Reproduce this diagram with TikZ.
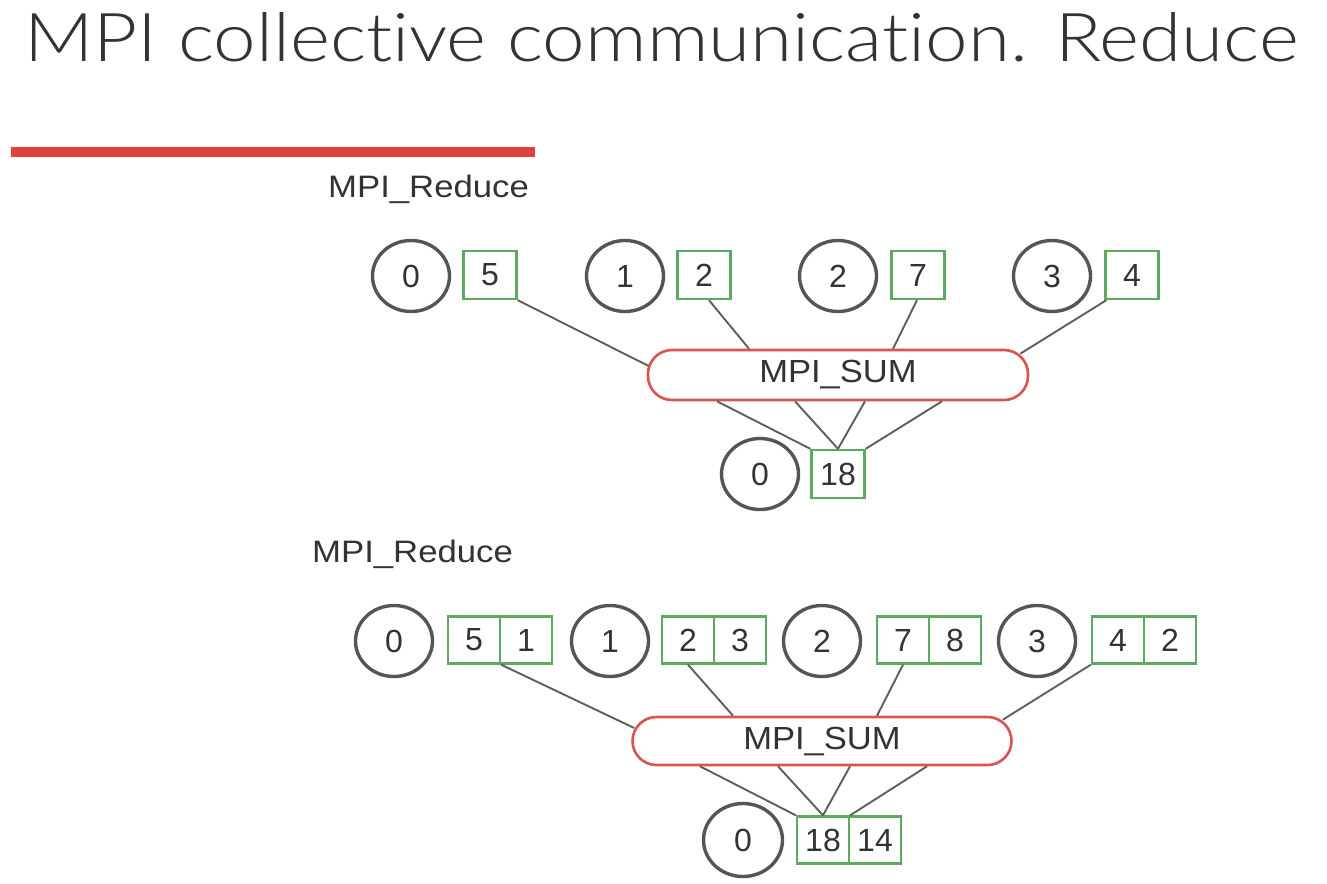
\documentclass[tikz,border=0pt]{standalone}
\usepackage{fontspec}
\setmainfont{Liberation Sans}
\newfontfamily\titlefont[Ligatures=NoCommon]{Lato Light}
\usetikzlibrary{shapes.geometric,calc}
\definecolor{procgray}{HTML}{555555}
\definecolor{cellgreen}{HTML}{5BAA5F}
\definecolor{opred}{HTML}{D9544C}
\definecolor{txtgray}{HTML}{333333}
\definecolor{linkgray}{HTML}{5E5E5E}
\definecolor{barred}{HTML}{E0403C}
\newcommand{\wide}[1]{\scalebox{1.08}[1]{#1}}
\begin{document}
\begin{tikzpicture}[x=1pt,y=-1pt,
  every node/.style={inner sep=0pt, text=txtgray, font=\fontsize{32}{38}\selectfont},
  proc/.style={ellipse, draw=procgray, line width=3.4pt, minimum width=77pt, minimum height=71pt},
  cell/.style={rectangle, draw=cellgreen, line width=2.4pt, minimum width=53pt, minimum height=48pt},
  cellb/.style={cell, minimum width=52pt, minimum height=47pt},
  op/.style={rectangle, rounded corners=24pt, draw=opred, line width=2.6pt, minimum width=380pt, minimum height=50pt},
  link/.style={draw=linkgray, line width=1.9pt},
  lbl/.style={anchor=base west, font=\fontsize{31}{36}\selectfont}]
\useasboundingbox[fill=white] (0,0) rectangle (1327,883);

% title and bar
\node[anchor=south west] (title) at (24,62) {\resizebox{1274pt}{49pt}{\titlefont MPI collective communication. Reduce}};
\fill[barred] (11,147) rectangle (535,157);

% ---------- top diagram ----------
\node[lbl] (lab1) at (328,197) {\scalebox{1.12}[1]{MPI\_Reduce}};
\node[proc] (p0) at (411,276) {0};
\node[cell] (a0) at (490,275) {5};
\node[proc] (p1) at (625,276) {1};
\node[cell] (a1) at (704,275) {2};
\node[proc] (p2) at (838,276) {2};
\node[cell] (a2) at (918,275) {7};
\node[proc] (p3) at (1052,276) {3};
\node[cell] (a3) at (1132,275) {4};
\node[op] (sum) at (838,375) {\wide{MPI\_SUM}};
\node[proc] (p4) at (760,474) {0};
\node[cell] (r) at (838,474) {18};

\draw[link] (a0.south east) -- ($(sum.west)+(2,-9)$);
\draw[link] ($(a1.south)+(5,0)$) -- ($(sum.north)+(-89,0)$);
\draw[link] ($(a2.south)+(-1,0)$) -- ($(sum.north)+(55,0)$);
\draw[link] ($(a3.south west)+(2,0)$) -- ($(sum.north east)+(-9,5)$);
\draw[link] ($(sum.south)+(-121,0)$) -- (r.north west);
\draw[link] ($(sum.south)+(-43,0)$) -- (r.north);
\draw[link] ($(sum.south)+(27,0)$) -- (r.north);
\draw[link] ($(sum.south)+(104,0)$) -- (r.north east);

% ---------- bottom diagram ----------
\node[lbl] (lab2) at (312,562) {\scalebox{1.12}[1]{MPI\_Reduce}};
\node[proc] (q0) at (394,641) {0};
\node[cellb] (c0a) at (474,640) {5};
\node[cellb] (c0b) at (526,640) {1};
\node[proc] (q1) at (610,641) {1};
\node[cellb] (c1a) at (688,640) {2};
\node[cellb] (c1b) at (740,640) {3};
\node[proc] (q2) at (822,641) {2};
\node[cellb] (c2a) at (903,640) {7};
\node[cellb] (c2b) at (955,640) {8};
\node[proc] (q3) at (1037,641) {3};
\node[cellb] (c3a) at (1118,640) {4};
\node[cellb] (c3b) at (1170,640) {2};
\node[op, minimum width=379pt, minimum height=48pt] (sum2) at (822,741) {\wide{MPI\_SUM}};
\node[proc, minimum height=73pt, minimum width=79pt] (q4) at (743,840) {0};
\node[cellb] (d0a) at (823,840) {18};
\node[cellb] (d0b) at (875,840) {14};

\draw[link] (c0a.south east) -- ($(sum2.west)+(3,-13)$);
\draw[link] (c1a.south) -- ($(sum2.north)+(-89,0)$);
\draw[link] (c2a.south) -- ($(sum2.north)+(55,0)$);
\draw[link] (c3a.south west) -- ($(sum2.north east)+(-10,4)$);
\draw[link] ($(sum2.south)+(-122,0)$) -- (d0a.north west);
\draw[link] ($(sum2.south)+(-44,0)$) -- (d0a.north);
\draw[link] ($(sum2.south)+(28,0)$) -- (d0a.north);
\draw[link] ($(sum2.south)+(105,0)$) -- (d0a.north east);
\end{tikzpicture}
\end{document}
